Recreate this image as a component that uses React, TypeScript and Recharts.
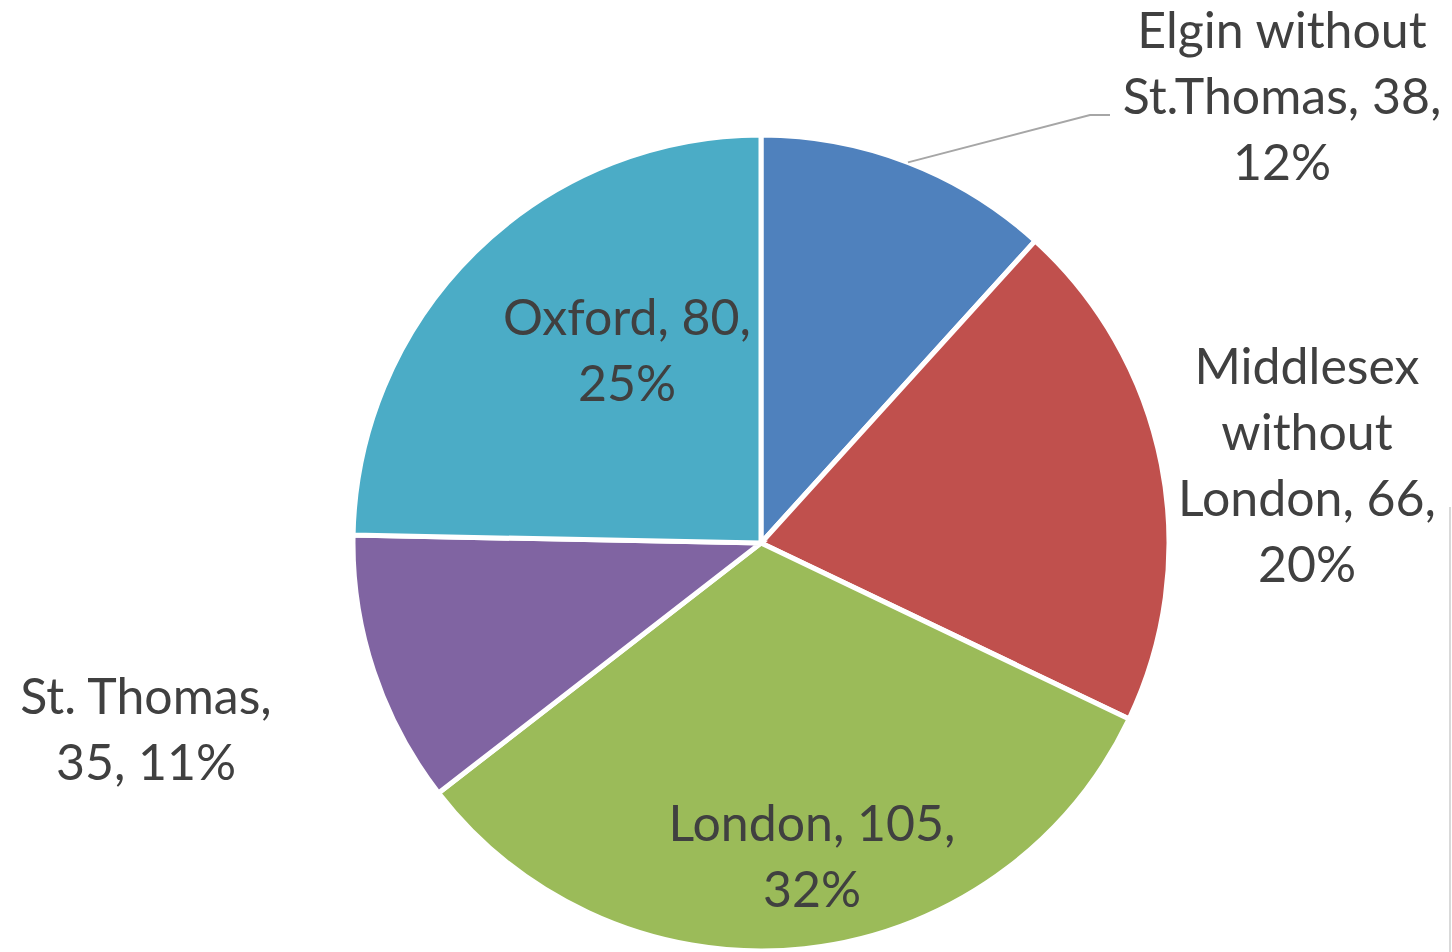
import { Cell, Pie, PieChart } from "recharts";

// slice data, clockwise from 12 o'clock
const regions = [
  "Elgin without St.Thomas",
  "Middlesex without London",
  "London",
  "St. Thomas",
  "Oxford",
];
const counts = [38, 66, 105, 35, 80];
const colors = ["#4F81BD", "#C0504D", "#9BBB59", "#8064A2", "#4BACC6"];
// how many words go on each wrapped label line
const lineBreaks = [[2, 2, 1], [1, 1, 2, 1], [2, 1], [2, 2], [2, 1]];

const total = counts.reduce((a, b) => a + b, 0);
const data = regions.map((name, i) => ({ name, value: counts[i] }));

// label block centres, relative to the pie centre
const labelOffset: Record<string, { dx: number; dy: number; leader?: boolean }> = {
  "Elgin without St.Thomas": { dx: 521, dy: -447, leader: true },
  "Middlesex without London": { dx: 546, dy: -78 },
  London: { dx: 51, dy: 313 },
  "St. Thomas": { dx: -615, dy: 186 },
  Oxford: { dx: -134, dy: -193 },
};

const LINE_H = 66;
const FONT = 50;
const RAD = Math.PI / 180;

function renderLabel(props: any) {
  const { cx, cy, midAngle, outerRadius, name, value, index } = props;
  const pct = Math.round((value / total) * 100);
  const words = `${name}, ${value}, ${pct}%`.split(" ");
  const lines: string[] = [];
  let k = 0;
  for (const n of lineBreaks[index]) {
    lines.push(words.slice(k, k + n).join(" "));
    k += n;
  }
  const off = labelOffset[name];
  const x = cx + off.dx;
  const y = cy + off.dy;
  const firstBaseline = y - ((lines.length - 1) * LINE_H) / 2 + FONT * 0.36;

  let leader = null;
  if (off.leader) {
    const sx = cx + outerRadius * Math.cos(-midAngle * RAD);
    const sy = cy + outerRadius * Math.sin(-midAngle * RAD);
    const ex = x - 192;
    const ey = y + 19;
    leader = (
      <polyline
        points={`${sx},${sy} ${ex},${ey} ${ex + 20},${ey}`}
        fill="none"
        stroke="#A6A6A6"
        strokeWidth={2}
      />
    );
  }

  return (
    <g key={`lbl-${index}`}>
      {leader}
      <text
        x={x}
        y={firstBaseline}
        textAnchor="middle"
        fill="#404040"
        fontSize={FONT}
        fontFamily="Lato, 'Open Sans', sans-serif"
      >
        {lines.map((l, i) => (
          <tspan key={i} x={x} dy={i === 0 ? 0 : LINE_H}>
            {l}
          </tspan>
        ))}
      </text>
    </g>
  );
}

export default function App() {
  return (
    <div style={{ position: "relative", width: 1452, height: 952, background: "#fff" }}>
      <style>{`body{margin:0}`}</style>
      <PieChart width={1452} height={952} margin={{ top: 0, right: 0, bottom: 0, left: 0 }}>
        <Pie
          data={data}
          dataKey="value"
          nameKey="name"
          cx={761}
          cy={543}
          outerRadius={408}
          startAngle={90}
          endAngle={-270}
          stroke="#fff"
          strokeWidth={5}
          label={renderLabel}
          labelLine={false}
          isAnimationActive={false}
        >
          {data.map((d, i) => (
            <Cell key={d.name} fill={colors[i]} />
          ))}
        </Pie>
      </PieChart>
      <div
        style={{
          position: "absolute",
          left: 1449,
          top: 507,
          width: 0,
          height: 445,
          borderLeft: "2px solid #D9D9D9",
        }}
      />
    </div>
  );
}
